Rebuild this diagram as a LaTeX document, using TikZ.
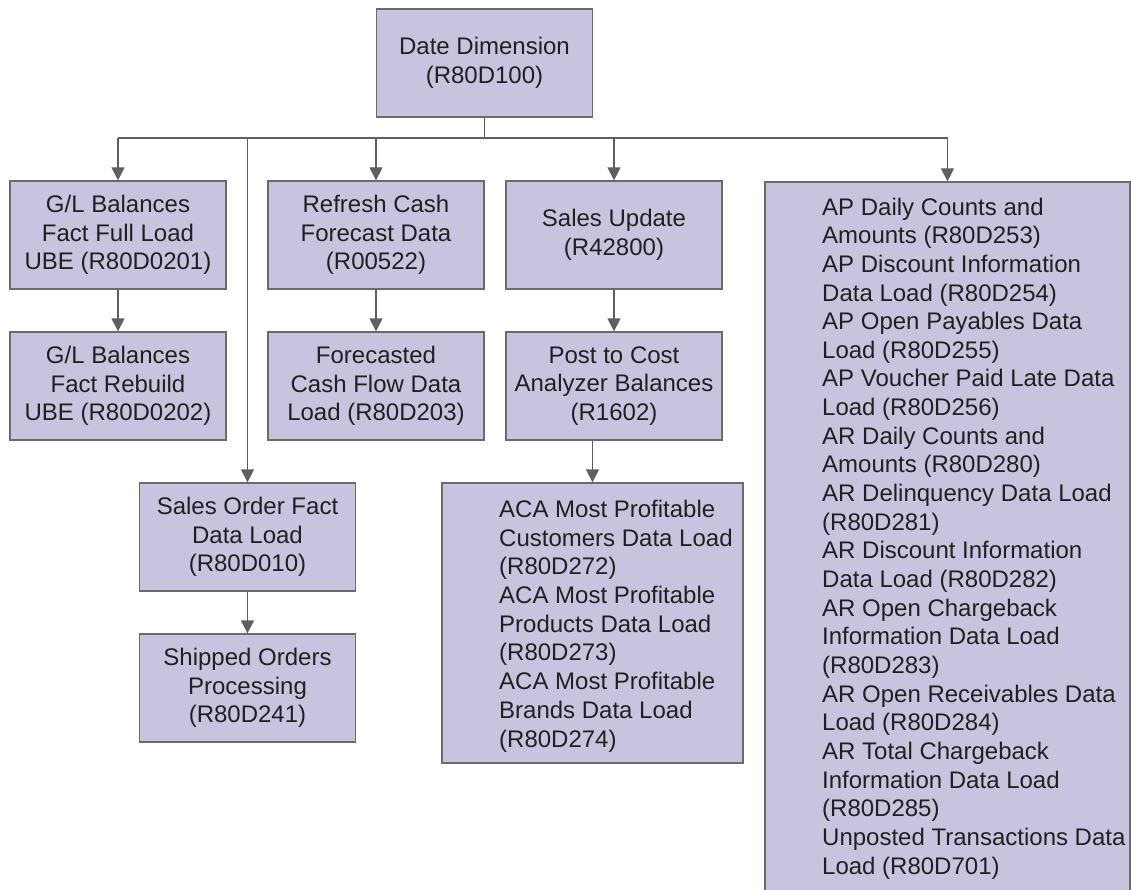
\documentclass[tikz,border=0pt]{standalone}
\usepackage{fontspec}
\setmainfont{Liberation Sans}
\usetikzlibrary{arrows.meta,calc}
\definecolor{boxfill}{HTML}{C8C4E0}
\definecolor{boxline}{HTML}{6B6B6B}
\definecolor{lineclr}{HTML}{5F5F5F}
\definecolor{txt}{HTML}{231F20}
\begin{document}
\begin{tikzpicture}[x=1pt,y=-1pt,
  box/.style={draw=boxline, line width=1.3pt, fill=boxfill, minimum width=216pt, minimum height=108pt, inner sep=0pt, align=center, text=txt, font=\fontsize{24}{28.7}\selectfont},
  bigbox/.style={draw=boxline, line width=1.3pt, fill=boxfill, inner sep=0pt},
  listtext/.style={align=left, inner sep=0pt, text=txt, font=\fontsize{24}{28.7}\selectfont, anchor=base west},
  arr/.style={draw=lineclr, line width=1.3pt, -{Triangle[length=13pt,width=13pt]}},
  conn/.style={draw=lineclr, line width=1.3pt}]
\useasboundingbox (0,0) rectangle (1131,890);

\node[box] (dd) at (484.5,63) {Date Dimension\\(R80D100)};

\node[box] (gl1) at (118,235) {G/L Balances\\Fact Full Load\\UBE (R80D0201)};
\node[box] (gl2) at (118,386) {G/L Balances\\Fact Rebuild\\UBE (R80D0202)};

\node[box] (rc) at (376,235) {Refresh Cash\\Forecast Data\\(R00522)};
\node[box] (fc) at (376,386) {Forecasted\\Cash Flow Data\\Load (R80D203)};

\node[box] (su) at (614,235) {Sales Update\\(R42800)};
\node[box] (pc) at (614,386) {Post to Cost\\Analyzer Balances\\(R1602)};

\node[box] (so) at (247.5,537) {Sales Order Fact\\Data Load\\(R80D010)};
\node[box] (sh) at (247.5,688) {Shipped Orders\\Processing\\(R80D241)};

\node[bigbox, minimum width=301pt, minimum height=280pt] (aca) at (592.5,623) {};
\node[listtext] (acatext) at (499,747) {ACA Most Profitable\\Customers Data Load\\(R80D272)\\ACA Most Profitable\\Products Data Load\\(R80D273)\\ACA Most Profitable\\Brands Data Load\\(R80D274)};

\node[bigbox, minimum width=365pt, minimum height=718pt] (ap) at (947.5,541) {};
\node[listtext, font=\fontsize{24}{28.65}\selectfont] (aptext) at (822,874) {AP Daily Counts and\\Amounts (R80D253)\\AP Discount Information\\Data Load (R80D254)\\AP Open Payables Data\\Load (R80D255)\\AP Voucher Paid Late Data\\Load (R80D256)\\AR Daily Counts and\\Amounts (R80D280)\\AR Delinquency Data Load\\(R80D281)\\AR Discount Information\\Data Load (R80D282)\\AR Open Chargeback\\Information Data Load\\(R80D283)\\AR Open Receivables Data\\Load (R80D284)\\AR Total Chargeback\\Information Data Load\\(R80D285)\\Unposted Transactions Data\\Load (R80D701)};

\coordinate (bus) at (484.5,138);
\coordinate (busL) at (118,138);
\coordinate (busR) at (947.5,138);

\draw[conn] (dd.south) -- (bus);
\draw[conn] (busL) -- (busR);
\draw[arr] (busL) -- (gl1.north);
\draw[arr] (bus -| so.north) -- (so.north);
\draw[arr] (bus -| rc.north) -- (rc.north);
\draw[arr] (bus -| su.north) -- (su.north);
\draw[arr] (busR) -- (ap.north);

\draw[arr] (gl1.south) -- (gl2.north);
\draw[arr] (rc.south) -- (fc.north);
\draw[arr] (su.south) -- (pc.north);
\draw[arr] (so.south) -- (sh.north);
\draw[arr] (pc.south -| aca.north) -- (aca.north);
\end{tikzpicture}
\end{document}
